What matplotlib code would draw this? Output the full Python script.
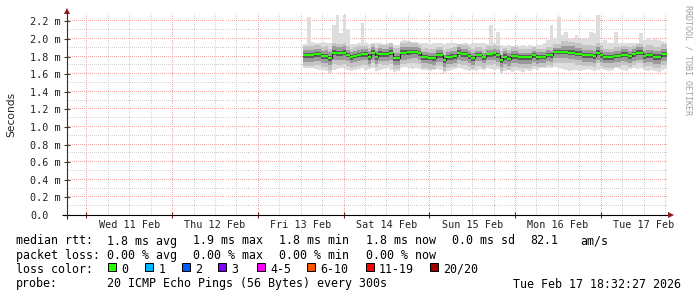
import numpy as np
import matplotlib
matplotlib.use("Agg")
import matplotlib.pyplot as plt
from matplotlib.patches import Rectangle

W, H = 697, 297

# ---------------- data ----------------
view_start = np.datetime64("2026-02-10T18:32:27")
view_end = np.datetime64("2026-02-17T18:32:27")
data_start = np.datetime64("2026-02-13T12:45:00")   # first hourly bin

day_names = ["Wed 11 Feb", "Thu 12 Feb", "Fri 13 Feb", "Sat 14 Feb",
             "Sun 15 Feb", "Mon 16 Feb", "Tue 17 Feb"]
day_dates = np.array(["2026-02-11T00:00", "2026-02-12T00:00", "2026-02-13T00:00",
                      "2026-02-14T00:00", "2026-02-15T00:00", "2026-02-16T00:00",
                      "2026-02-17T00:00"], dtype="datetime64[s]")

y_tick_values = [0.0, 0.2, 0.4, 0.6, 0.8, 1.0, 1.2, 1.4, 1.6, 1.8, 2.0, 2.2]
y_tick_labels = ["0.0", "0.2 m", "0.4 m", "0.6 m", "0.8 m", "1.0 m",
                 "1.2 m", "1.4 m", "1.6 m", "1.8 m", "2.0 m", "2.2 m"]

# hourly median RTT (ms)
median_ms = [1.818, 1.818, 1.818, 1.830, 1.830, 1.807, 1.807, 1.780, 1.845, 1.837,
             1.837, 1.845, 1.818, 1.792, 1.807, 1.818, 1.826, 1.826, 1.799, 1.845,
             1.799, 1.833, 1.830, 1.830, 1.845, 1.784, 1.784, 1.845, 1.845, 1.852,
             1.852, 1.852, 1.837, 1.792, 1.795, 1.784, 1.784, 1.814, 1.814, 1.758,
             1.792, 1.799, 1.807, 1.845, 1.830, 1.830, 1.807, 1.784, 1.818, 1.818,
             1.792, 1.826, 1.826, 1.837, 1.818, 1.761, 1.799, 1.777, 1.807, 1.807,
             1.792, 1.792, 1.792, 1.792, 1.814, 1.799, 1.799, 1.799, 1.822, 1.814,
             1.852, 1.852, 1.852, 1.852, 1.845, 1.845, 1.830, 1.830, 1.818, 1.818,
             1.818, 1.807, 1.845, 1.818, 1.792, 1.792, 1.792, 1.807, 1.807, 1.822,
             1.822, 1.807, 1.826, 1.845, 1.845, 1.807, 1.818, 1.818, 1.799, 1.799,
             1.830, 1.830]

# hourly slowest ping (ms)
smoke_max_ms = [1.939, 2.254, 1.970, 1.958, 1.951, 1.970, 1.951, 1.951, 2.159, 2.273,
                2.064, 2.273, 2.102, 1.939, 1.939, 1.951, 2.178, 1.951, 1.943, 1.951,
                1.958, 1.951, 1.943, 1.958, 1.951, 1.932, 1.932, 1.981, 1.989, 1.981,
                1.970, 1.970, 1.958, 1.951, 1.951, 1.943, 1.958, 1.951, 1.951, 1.943,
                1.951, 1.958, 1.951, 1.943, 1.951, 1.951, 1.943, 1.951, 1.958, 1.951,
                1.951, 1.939, 2.159, 1.951, 2.083, 1.932, 1.920, 1.932, 1.920, 1.932,
                1.920, 1.932, 1.920, 1.932, 1.920, 1.932, 1.932, 1.951, 1.989, 2.159,
                2.007, 2.254, 2.045, 2.083, 2.007, 1.996, 2.045, 1.996, 2.007, 1.996,
                2.083, 2.064, 2.273, 1.970, 1.989, 1.951, 1.958, 2.083, 1.951, 1.951,
                1.958, 1.951, 1.951, 1.958, 2.064, 1.989, 2.007, 1.989, 1.996, 1.989,
                1.981, 1.970]

# hourly fastest ping (ms)
smoke_min_ms = [1.674, 1.674, 1.667, 1.655, 1.648, 1.648, 1.640, 1.617, 1.648, 1.655,
                1.667, 1.667, 1.648, 1.640, 1.648, 1.655, 1.667, 1.648, 1.655, 1.667,
                1.640, 1.648, 1.655, 1.667, 1.648, 1.629, 1.640, 1.667, 1.678, 1.667,
                1.655, 1.667, 1.655, 1.648, 1.648, 1.640, 1.648, 1.655, 1.648, 1.617,
                1.640, 1.648, 1.655, 1.667, 1.655, 1.648, 1.640, 1.648, 1.640, 1.655,
                1.648, 1.667, 1.655, 1.648, 1.655, 1.602, 1.640, 1.648, 1.629, 1.648,
                1.640, 1.629, 1.648, 1.640, 1.655, 1.648, 1.667, 1.667, 1.667, 1.667,
                1.678, 1.667, 1.655, 1.648, 1.640, 1.648, 1.648, 1.640, 1.648, 1.655,
                1.648, 1.640, 1.648, 1.655, 1.648, 1.640, 1.648, 1.667, 1.655, 1.648,
                1.640, 1.655, 1.667, 1.655, 1.667, 1.648, 1.640, 1.648, 1.640, 1.629,
                1.648, 1.655]

# inner smoke bands: spread above / below the median (ms), per 6-hour block
band_a_up = [0.10, 0.11, 0.10, 0.10, 0.11, 0.10, 0.10, 0.10, 0.09, 0.10, 0.09, 0.09, 0.12, 0.11, 0.10, 0.10, 0.11]
band_a_dn = [0.12, 0.13, 0.12, 0.12, 0.13, 0.12, 0.12, 0.13, 0.12, 0.13, 0.12, 0.12, 0.12, 0.12, 0.12, 0.12, 0.13]
band_b_up = [0.06, 0.07, 0.06, 0.06, 0.06, 0.06, 0.06, 0.06, 0.05, 0.06, 0.05, 0.05, 0.07, 0.06, 0.06, 0.06, 0.06]
band_b_dn = [0.08, 0.08, 0.07, 0.08, 0.08, 0.07, 0.08, 0.08, 0.07, 0.08, 0.08, 0.07, 0.07, 0.08, 0.07, 0.08, 0.08]
band_c_up = [0.025, 0.028, 0.025, 0.025, 0.025, 0.022, 0.025, 0.025, 0.020, 0.025, 0.022, 0.022, 0.028, 0.025, 0.025, 0.025, 0.025]
band_c_dn = [0.032, 0.032, 0.028, 0.032, 0.032, 0.028, 0.032, 0.032, 0.028, 0.032, 0.032, 0.028, 0.028, 0.032, 0.028, 0.032, 0.032]
block_hours = 6

stats_rtt = ["1.8 ms avg", "1.9 ms max", "1.8 ms min", "1.8 ms now", "0.0 ms sd", "82.1", "am/s"]
stats_loss = ["0.00 % avg", "0.00 % max", "0.00 % min", "0.00 % now"]
loss_labels = ["0", "1", "2", "3", "4-5", "6-10", "11-19", "20/20"]
loss_colors = ["#26ff00", "#00b8ff", "#0059ff", "#7e00ff", "#ff00ff", "#ff5500", "#ff0000", "#a10000"]
probe_text = "20 ICMP Echo Pings (56 Bytes) every 300s"
stamp_text = "Tue Feb 17 18:32:27 2026"

# ---------------- helpers ----------------
def hours(t):
    return (np.asarray(t, dtype="datetime64[s]") - view_start) / np.timedelta64(1, "h")

MONO = "DejaVu Sans Mono"

fig = plt.figure(figsize=(W / 100, H / 100), dpi=100, facecolor="white")
ax_l, ax_r, ax_t, ax_b = 67.0, 667.0, 13.0, 215.0
axw = ax_r - ax_l
axh = ax_b - ax_t
ax = fig.add_axes([ax_l / W, 1 - ax_b / H, axw / W, axh / H])
ax.set_facecolor("white")
for s in ax.spines.values():
    s.set_visible(False)

ymax = 2.2955
ax.set_xlim(0, hours(view_end))
ax.set_ylim(0, ymax)

# ---------------- dotted grid (one pixel on, one off) ----------------
minor_c = "#d2d2d2"
major_c = "#eeaaaa"
xdots = (np.arange(0, axw, 2) + 0.5) / axw
ydots = (np.arange(0, axh, 2) + 0.5) / axh


def hgrid(v, c, z):
    ax.plot(xdots, np.full_like(xdots, v), ls="none", marker=",", color=c, zorder=z,
            transform=ax.get_yaxis_transform())


def vgrid(t, c, z):
    ax.plot(np.full_like(ydots, t), ydots, ls="none", marker=",", color=c, zorder=z,
            transform=ax.get_xaxis_transform())


for k in range(1, 23):
    if k % 2 == 1:
        hgrid(k * 0.1, minor_c, 0)
for v in y_tick_values[1:]:
    hgrid(v, major_c, 0.5)
midnights = hours(day_dates)
for h in np.arange(-12, 170, 6):
    hh = midnights[0] + h
    if 0 < hh < hours(view_end) and (h % 24) != 0:
        vgrid(hh, minor_c, 0)
for hh in midnights:
    vgrid(hh, major_c, 0.5)

# ---------------- smoke ----------------
n = len(median_ms)
edges = hours(data_start + np.arange(n + 1) * np.timedelta64(1, "h"))
med = np.array(median_ms)
top = np.array(smoke_max_ms)
bot = np.array(smoke_min_ms)

ax.stairs(top, edges, baseline=bot, fill=True, color="#dddddd", lw=0, zorder=2)
bands = [(band_a_up, band_a_dn, "#c4c4c4"),
         (band_b_up, band_b_dn, "#9a9a9a"),
         (band_c_up, band_c_dn, "#5c5c5c")]
for up, dn, col in bands:
    up_h = np.repeat(up, block_hours)[:n]
    dn_h = np.repeat(dn, block_hours)[:n]
    hi = np.minimum(med + up_h, top)
    lo = np.maximum(med - dn_h, bot)
    ax.stairs(hi, edges, baseline=lo, fill=True, color=col, lw=0, zorder=3)

# median: dark connectors, green level segments
ax.stairs(med, edges, baseline=None, color="#202020", lw=0.8, zorder=4)
ax.hlines(med, edges[:-1], edges[1:], color=loss_colors[0], lw=1.5, zorder=5)

# ---------------- axes, ticks ----------------
ax.set_yticks(y_tick_values)
ax.set_yticklabels([])
ax.tick_params(axis="y", direction="inout", length=4, width=0.8, color="#404040")
for v, lab in zip(y_tick_values, y_tick_labels):
    ax.text((30 - ax_l) / axw, v, lab, transform=ax.get_yaxis_transform(),
            ha="left", va="center_baseline", family=MONO, fontsize=7.3, color="#222222")

noons = midnights + 12
ax.set_xticks(noons)
ax.set_xticklabels(day_names, family=MONO, fontsize=7.3, color="#222222")
ax.set_xticks(midnights, minor=True)
ax.tick_params(axis="x", which="major", length=0, pad=3.8)
ax.tick_params(axis="x", which="minor", direction="inout", length=4, width=0.8, color="#8b1a1a")

# axis lines and arrows
ax.plot([(62 - ax_l) / axw, (670 - ax_l) / axw], [0, 0], color="black", lw=0.8,
        transform=ax.transAxes, clip_on=False, zorder=6, solid_capstyle="butt")
ax.plot([0, 0], [(ax_b - 219) / axh, (ax_b - 11) / axh], color="#303030", lw=0.8,
        transform=ax.transAxes, clip_on=False, zorder=6, solid_capstyle="butt")
ax.plot([0], [(ax_b - 10.5) / axh], marker="^", ms=4.2, color="#8b1a1a", mew=0,
        transform=ax.transAxes, clip_on=False, zorder=7)
ax.plot([(671 - ax_l) / axw], [0], marker=">", ms=4.2, color="#8b1a1a", mew=0,
        transform=ax.transAxes, clip_on=False, zorder=7)

# ---------------- labels ----------------
fig.text(11.2 / W, 1 - 114.4 / H, "Seconds", rotation=90, ha="center", va="center",
         family="DejaVu Sans", fontsize=7.7, color="#222222")
fig.text(688 / W, 1 - 60 / H, "RRDTOOL / TOBI OETIKER", rotation=270, ha="center",
         va="center", family=MONO, fontsize=6, color="#a0a0a0")


def ftext(x, ybase, s):
    fig.text(x / W, 1 - ybase / H, s, ha="left", va="baseline", family=MONO,
             fontsize=8.4, color="black")


row_y = [244.5, 259.0, 272.8, 287.5]
ftext(16, row_y[0], "median rtt:")
for x, s in zip([107, 193, 279, 366, 452, 530, 580], stats_rtt):
    ftext(x, row_y[0], s)
ftext(16, row_y[1], "packet loss:")
for x, s in zip([107, 193, 279, 366], stats_loss):
    ftext(x, row_y[1], s)
ftext(16, row_y[2], "loss color:")
sq_x = [108.3, 145.0, 181.7, 218.0, 256.7, 307.0, 365.7, 430.0]
for x, lab, col in zip(sq_x, loss_labels, loss_colors):
    fig.add_artist(Rectangle((x / W, 1 - 270.7 / H), 8 / W, 8 / H, transform=fig.transFigure,
                             facecolor=col, edgecolor="black", lw=0.7))
    ftext(x + 13.3, row_y[2], lab)
ftext(16, row_y[3], "probe:")
ftext(107, row_y[3], probe_text)
ftext(513, row_y[3], stamp_text)

fig.savefig("out.png", dpi=100, facecolor="white")
